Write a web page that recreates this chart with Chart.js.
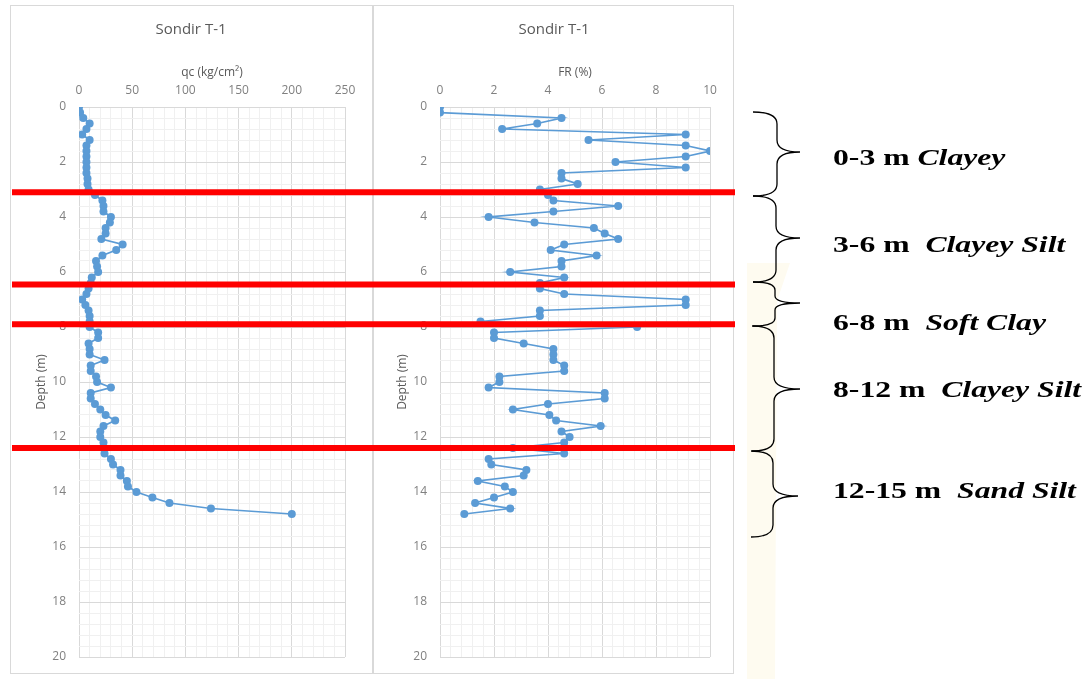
<!DOCTYPE html>
<html>
<head>
<meta charset="utf-8">
<title>Sondir T-1</title>
<script src="https://cdn.jsdelivr.net/npm/chart.js@4.4.1/dist/chart.umd.min.js"></script>
<style>
  body { margin: 0; background: #fff; width: 1092px; height: 679px; position: relative; overflow: hidden; }
  .box { position: absolute; }
  #qcBox { left: 9px; top: 5px; width: 364px; height: 669px; }
  #frBox { left: 373px; top: 5px; width: 362px; height: 669px; }
  .band { position: absolute; left: 747px; top: 263px; width: 43px; height: 416px; background: #fefbf0;
          clip-path: polygon(0 0, 43px 0, 30px 38px, 28px 100%, 0 100%); }
  svg { position: absolute; left: 0; top: 0; }
  .layer { position: absolute; left: 833px; font-family: "Liberation Serif", serif; font-weight: bold;
           font-size: 24px; color: #000; white-space: pre; transform-origin: left center;
           transform: translateY(-50%) scaleX(1.32); }
  .layer i { font-style: italic; }
</style>
</head>
<body>
<div class="box" id="qcBox"><canvas id="qcChart"></canvas></div>
<div class="box" id="frBox"><canvas id="frChart"></canvas></div>

<div class="band"></div>
<svg width="1092" height="679">
  <g fill="none" stroke="#000" stroke-width="1.3">
    <path d="M753 112 Q777 112 777 124 L777 140 Q777 152 800 152 Q777 152 777 164 L777 184 Q777 196 753 196"/>
    <path d="M753 196 Q776 196 776 208 L776 226 Q776 238 800 238 Q776 238 776 250 L776 270 Q776 282 753 282"/>
    <path d="M753 282 Q775 282 775 290 L775 296 Q775 303 800 303 Q775 303 775 310 L775 318 Q775 326 753 326"/>
    <path d="M752 326 Q774 326 774 338 L774 377 Q774 389 800 389 Q774 389 774 401 L774 439 Q774 451 752 451"/>
    <path d="M751 451 Q773 451 773 463 L773 484 Q773 496 798 496 Q773 496 773 508 L773 525 Q773 537 751 537"/>
  </g>
</svg>
<div class="layer" style="top:157px">0-3 m <i>Clayey</i></div>
<div class="layer" style="top:244px">3-6 m  <i>Clayey Silt</i></div>
<div class="layer" style="top:322px">6-8 m  <i>Soft Clay</i></div>
<div class="layer" style="top:389px">8-12 m  <i>Clayey Silt</i></div>
<div class="layer" style="top:490px">12-15 m  <i>Sand Silt</i></div>

<script>
// kedalaman titik sondir (m)
const depth = [0, 0.2, 0.4, 0.6, 0.8, 1.0, 1.2, 1.4, 1.6, 1.8,
  2.0, 2.2, 2.4, 2.6, 2.8, 3.0, 3.2, 3.4, 3.6, 3.8,
  4.0, 4.2, 4.4, 4.6, 4.8, 5.0, 5.2, 5.4, 5.6, 5.8,
  6.0, 6.2, 6.4, 6.6, 6.8, 7.0, 7.2, 7.4, 7.6, 7.8,
  8.0, 8.2, 8.4, 8.6, 8.8, 9.0, 9.2, 9.4, 9.6, 9.8,
  10.0, 10.2, 10.4, 10.6, 10.8, 11.0, 11.2, 11.4, 11.6, 11.8,
  12.0, 12.2, 12.4, 12.6, 12.8, 13.0, 13.2, 13.4, 13.6, 13.8,
  14.0, 14.2, 14.4, 14.6, 14.8];

// tahanan konus qc (kg/cm2)
const qc = [0, 1, 4, 10, 7, 3, 10, 7, 7, 7,
  7, 7, 7, 8, 8, 9, 15, 22, 23, 23,
  30, 29, 25, 25, 21, 41, 35, 22, 16, 17,
  18, 12, 11, 9, 7, 3, 6, 9, 10, 10,
  10, 18, 18, 9, 10, 10, 24, 11, 11, 16,
  17, 30, 11, 11, 15, 20, 25, 34, 23, 20,
  20, 23, 23, 24, 30, 32, 39, 39, 45, 46,
  54, 69, 85, 124, 200];

// friction ratio FR (%)
const fr = [0, 0, 4.5, 3.6, 2.3, 9.1, 5.5, 9.1, 10, 9.1,
  6.5, 9.1, 4.5, 4.5, 5.1, 3.7, 4.0, 4.2, 6.6, 4.2,
  1.8, 3.5, 5.7, 6.1, 6.6, 4.6, 4.1, 5.8, 4.5, 4.5,
  2.6, 4.6, 3.7, 3.7, 4.6, 9.1, 9.1, 3.7, 3.7, 1.5,
  7.3, 2.0, 2.0, 3.1, 4.2, 4.2, 4.2, 4.6, 4.6, 2.2,
  2.2, 1.8, 6.1, 6.1, 4.0, 2.7, 4.05, 4.3, 5.95, 4.5,
  4.8, 4.6, 2.7, 4.6, 1.8, 1.9, 3.2, 3.1, 1.4, 2.4,
  2.7, 2.0, 1.3, 2.6, 0.9];

// batas lapisan tanah (m) - garis merah
const layerBounds = [3.1, 6.45, 7.9, 12.4];

const FONT = '"Open Sans", sans-serif';
const majorGrid = '#d9d9d9';
const minorGrid = '#f0f0f0';

function isMajor(v, step) {
  return Math.abs(v / step - Math.round(v / step)) < 1e-6;
}

// judul, bingkai dan garis batas lapisan
const overlay = {
  id: 'overlay',
  afterDraw(chart, args, opts) {
    const ctx = chart.ctx;
    const y = chart.scales.y;
    ctx.save();
    ctx.fillStyle = '#595959';
    ctx.font = '15px ' + FONT;
    ctx.textAlign = 'center';
    ctx.textBaseline = 'middle';
    ctx.fillText('Sondir T-1', chart.width / 2, 25);

    ctx.strokeStyle = majorGrid;
    ctx.lineWidth = 1;
    ctx.strokeRect(opts.frame[0], opts.frame[1], opts.frame[2], opts.frame[3]);

    ctx.strokeStyle = '#ff0000';
    ctx.lineWidth = 6;
    layerBounds.forEach(d => {
      const py = y.getPixelForValue(d);
      ctx.beginPath();
      ctx.moveTo(opts.lineStart, py);
      ctx.lineTo(chart.width, py);
      ctx.stroke();
    });
    ctx.restore();
  }
};

function makeChart(id, values, xTitle, xMax, xMinor, xMajor, cfg) {
  new Chart(document.getElementById(id), {
    type: 'scatter',
    data: {
      datasets: [{
        data: depth.map((d, i) => ({ x: values[i], y: d })),
        showLine: true,
        borderColor: '#5b9bd5',
        backgroundColor: '#5b9bd5',
        borderWidth: 1.75,
        pointRadius: 4,
        pointBorderWidth: 0
      }]
    },
    options: {
      responsive: true,
      maintainAspectRatio: false,
      animation: false,
      layout: { padding: { left: 0, right: cfg.padRight, top: 0, bottom: 17 } },
      plugins: {
        legend: { display: false },
        tooltip: { enabled: false },
        overlay: { frame: cfg.frame, lineStart: cfg.lineStart }
      },
      scales: {
        x: {
          type: 'linear', position: 'top', min: 0, max: xMax,
          afterFit: s => { s.height = 102; },
          border: { display: false },
          grid: { drawTicks: false, color: c => isMajor(c.tick.value, xMajor) ? majorGrid : minorGrid },
          ticks: {
            stepSize: xMinor, autoSkip: false, maxRotation: 0, padding: 9,
            color: '#808080', font: { size: 12, family: FONT },
            callback: v => isMajor(v, xMajor) ? v : ''
          },
          title: { display: true, text: xTitle, color: '#595959', font: { size: 12, family: FONT },
                   padding: { top: 60, bottom: 0 } }
        },
        y: {
          type: 'linear', reverse: true, min: 0, max: 20,
          afterFit: s => { s.width = cfg.yWidth; s.paddingTop = 0; s.paddingBottom = 0; },
          border: { display: false },
          grid: { drawTicks: false, color: c => isMajor(c.tick.value, 2) ? majorGrid : minorGrid },
          ticks: {
            stepSize: 0.4, autoSkip: false, padding: 13,
            color: '#808080', font: { size: 12, family: FONT },
            callback: v => isMajor(v, 2) ? v : ''
          },
          title: { display: true, text: 'Depth (m)', color: '#595959', font: { size: 12, family: FONT },
                   padding: { top: cfg.yTitlePad, bottom: 0 } }
        }
      }
    },
    plugins: [overlay]
  });
}

makeChart('qcChart', qc, 'qc (kg/cm²)', 250, 10, 50,
  { padRight: 28, yWidth: 70, yTitlePad: 25, frame: [1.5, 0.5, 362, 668], lineStart: 3 });
makeChart('frChart', fr, 'FR (%)', 10, 0.4, 2,
  { padRight: 25, yWidth: 67, yTitlePad: 22, frame: [0.5, 0.5, 360, 668], lineStart: 0 });
</script>
</body>
</html>
